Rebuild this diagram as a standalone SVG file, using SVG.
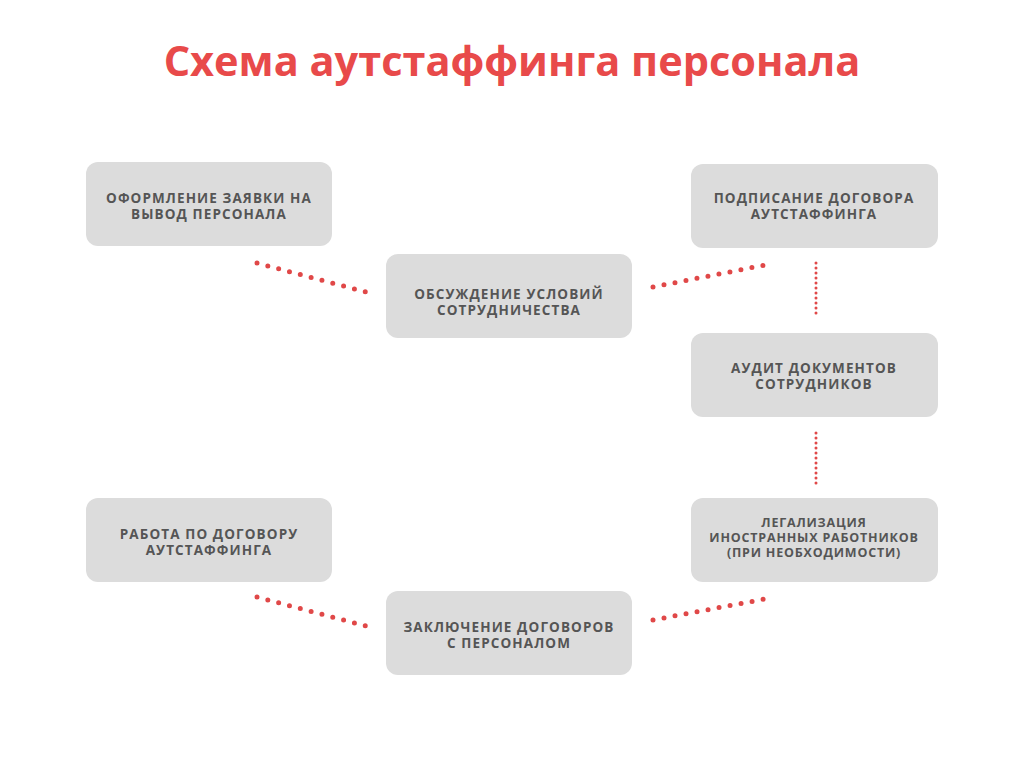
<svg xmlns="http://www.w3.org/2000/svg" width="1024" height="768" viewBox="0 0 1024 768">
<style>
.n{fill:#dcdcdc}
.t{font-family:"Open Sans","Noto Sans",sans-serif;font-weight:bold;font-size:13.5px;letter-spacing:1.1px;fill:#555;text-anchor:middle}
.s{font-size:12.5px;letter-spacing:0.8px}
.c{stroke:#e04848;stroke-width:5;stroke-linecap:round;stroke-dasharray:0 11.2;fill:none}
.v{stroke:#e04848;stroke-width:3;stroke-linecap:round;stroke-dasharray:0 5;fill:none}
</style>
<rect width="1024" height="768" fill="#fff"/>
<text x="512" y="76" text-anchor="middle" font-family="Open Sans,Noto Sans,sans-serif" font-weight="bold" font-size="41.5" fill="#e84a4a">Схема аутстаффинга персонала</text>
<g id="connectors">
<line class="c" x1="257" y1="263" x2="366" y2="292"/>
<line class="c" x1="653" y1="287" x2="765" y2="265"/>
<line class="v" x1="816" y1="263" x2="816" y2="318"/>
<line class="v" x1="816" y1="433" x2="816" y2="488"/>
<line class="c" x1="257" y1="597" x2="366" y2="626"/>
<line class="c" x1="653" y1="620" x2="765" y2="599"/>
</g>
<g id="n1"><rect class="n" x="86" y="162" width="246" height="84" rx="12"/><text class="t" x="209" y="203">ОФОРМЛЕНИЕ ЗАЯВКИ НА</text><text class="t" x="209" y="219">ВЫВОД ПЕРСОНАЛА</text></g>
<g id="n2"><rect class="n" x="386" y="254" width="246" height="84" rx="12"/><text class="t" x="509" y="299">ОБСУЖДЕНИЕ УСЛОВИЙ</text><text class="t" x="509" y="315">СОТРУДНИЧЕСТВА</text></g>
<g id="n3"><rect class="n" x="691" y="164" width="247" height="84" rx="12"/><text class="t" x="814" y="203">ПОДПИСАНИЕ ДОГОВОРА</text><text class="t" x="814" y="219">АУТСТАФФИНГА</text></g>
<g id="n4"><rect class="n" x="691" y="333" width="247" height="84" rx="12"/><text class="t" x="814" y="373">АУДИТ ДОКУМЕНТОВ</text><text class="t" x="814" y="389">СОТРУДНИКОВ</text></g>
<g id="n5"><rect class="n" x="691" y="498" width="247" height="84" rx="12"/><text class="t s" x="814" y="527">ЛЕГАЛИЗАЦИЯ</text><text class="t s" x="814" y="542">ИНОСТРАННЫХ РАБОТНИКОВ</text><text class="t s" x="814" y="557">(ПРИ НЕОБХОДИМОСТИ)</text></g>
<g id="n6"><rect class="n" x="86" y="498" width="246" height="84" rx="12"/><text class="t" x="209" y="539">РАБОТА ПО ДОГОВОРУ</text><text class="t" x="209" y="555">АУТСТАФФИНГА</text></g>
<g id="n7"><rect class="n" x="386" y="591" width="246" height="84" rx="12"/><text class="t" x="509" y="632">ЗАКЛЮЧЕНИЕ ДОГОВОРОВ</text><text class="t" x="509" y="648">С ПЕРСОНАЛОМ</text></g>
</svg>
